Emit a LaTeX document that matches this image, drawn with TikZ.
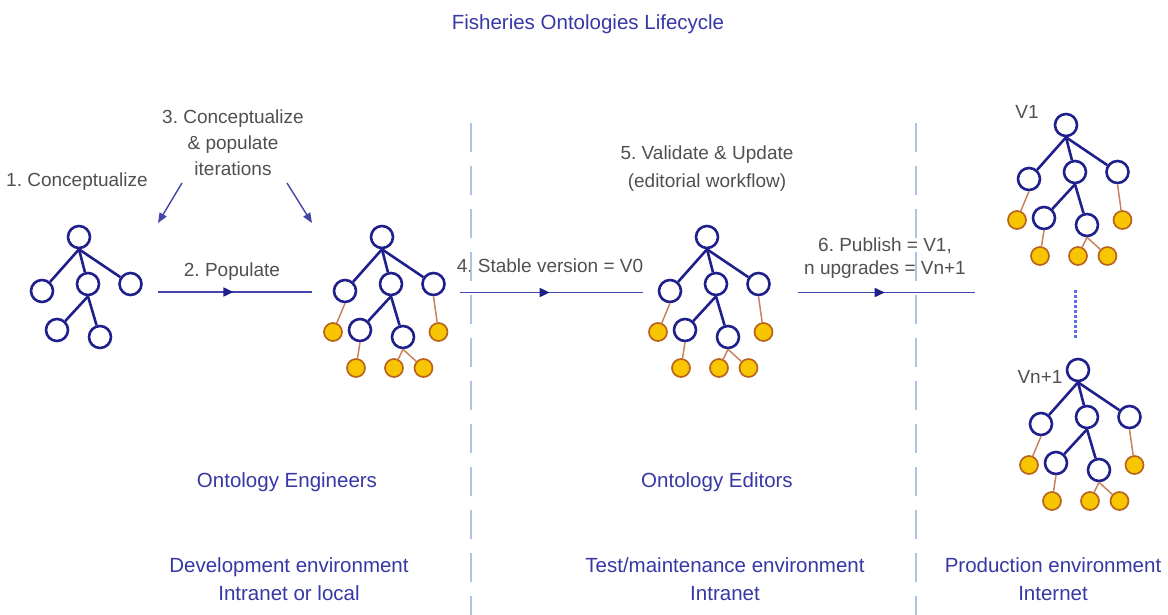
\documentclass[tikz,border=0pt]{standalone}
\usepackage{fontspec}
\setmainfont{Liberation Sans}
\usetikzlibrary{arrows.meta,decorations.markings}

\definecolor{treeblue}{RGB}{32,32,140}
\definecolor{arrowblue}{RGB}{70,70,170}
\definecolor{labelblue}{RGB}{55,55,165}
\definecolor{textgrey}{RGB}{80,80,80}
\definecolor{leaffill}{RGB}{248,198,0}
\definecolor{leafdraw}{RGB}{185,100,30}
\definecolor{leafedge}{RGB}{200,130,95}
\definecolor{sepblue}{RGB}{170,196,232}
\definecolor{dotblue}{RGB}{90,108,240}

\frenchspacing
\begin{document}
\begin{tikzpicture}[x=1pt, y=-1pt,
  cls/.style={circle, draw=treeblue, line width=2.6pt, fill=white, minimum size=22pt, inner sep=0pt},
  inst/.style={circle, draw=leafdraw, fill=leaffill, line width=1.7pt, minimum size=18pt, inner sep=0pt},
  isa/.style={draw=treeblue, line width=2.6pt},
  hasinst/.style={draw=leafedge, line width=1.5pt},
  note/.style={text=textgrey, font=\fontsize{19}{26}\selectfont, align=center, inner sep=0pt, anchor=base},
  group/.style={text=labelblue, font=\fontsize{20.5}{28}\selectfont, align=center, inner sep=0pt, anchor=base},
  flow/.style={draw=arrowblue, line width=1.6pt, postaction={decorate},
    decoration={markings, mark=at position 0.49 with {\arrow{Triangle[length=10pt,width=9pt,color=treeblue]}}}},
  hint/.style={draw=arrowblue, line width=1.4pt, -{Triangle[length=10pt,width=8pt]}},
  envline/.style={draw=sepblue, line width=2.4pt, dash pattern=on 29pt off 14pt},
  versions/.style={draw=dotblue, line width=3pt, dash pattern=on 3pt off 2pt}]
\useasboundingbox (0,0) rectangle (1168,615);

\node[group] (title) at (588,30) {Fisheries Ontologies Lifecycle};

\begin{scope}[shift={(79,237)}]
\node[cls] (c0) at (0,0) {};
\node[cls] (c1) at (-37,54) {};
\node[cls] (c2) at (9,47) {};
\node[cls] (c3) at (51.5,47) {};
\node[cls] (c4) at (-22,93) {};
\node[cls] (c5) at (21,100) {};
\end{scope}
\draw[isa] (c0.south) -- (c1);
\draw[isa] (c0.south) -- (c2);
\draw[isa] (c0.south) -- (c3);
\draw[isa] (c2.south) -- (c4);
\draw[isa] (c2.south) -- (c5);

\begin{scope}[shift={(382,237)}]
\node[cls] (p0) at (0,0) {};
\node[cls] (p1) at (-37,54) {};
\node[cls] (p2) at (9,47) {};
\node[cls] (p3) at (51.5,47) {};
\node[cls] (p4) at (-22,93) {};
\node[cls] (p5) at (21,100) {};
\node[inst] (py1) at (-49,95) {};
\node[inst] (py2) at (56.5,95) {};
\node[inst] (py3) at (-26,131) {};
\node[inst] (py4) at (12,131) {};
\node[inst] (py5) at (41.5,131) {};
\end{scope}
\draw[isa] (p0.south) -- (p1);
\draw[isa] (p0.south) -- (p2);
\draw[isa] (p0.south) -- (p3);
\draw[isa] (p2.south) -- (p4);
\draw[isa] (p2.south) -- (p5);
\draw[hasinst] (p1.south) -- (py1);
\draw[hasinst] (p3.south) -- (py2);
\draw[hasinst] (p4.south) -- (py3);
\draw[hasinst] (p5.south) -- (py4);
\draw[hasinst] (p5.south) -- (py5);

\begin{scope}[shift={(707,237)}]
\node[cls] (s0) at (0,0) {};
\node[cls] (s1) at (-37,54) {};
\node[cls] (s2) at (9,47) {};
\node[cls] (s3) at (51.5,47) {};
\node[cls] (s4) at (-22,93) {};
\node[cls] (s5) at (21,100) {};
\node[inst] (sy1) at (-49,95) {};
\node[inst] (sy2) at (56.5,95) {};
\node[inst] (sy3) at (-26,131) {};
\node[inst] (sy4) at (12,131) {};
\node[inst] (sy5) at (41.5,131) {};
\end{scope}
\draw[isa] (s0.south) -- (s1);
\draw[isa] (s0.south) -- (s2);
\draw[isa] (s0.south) -- (s3);
\draw[isa] (s2.south) -- (s4);
\draw[isa] (s2.south) -- (s5);
\draw[hasinst] (s1.south) -- (sy1);
\draw[hasinst] (s3.south) -- (sy2);
\draw[hasinst] (s4.south) -- (sy3);
\draw[hasinst] (s5.south) -- (sy4);
\draw[hasinst] (s5.south) -- (sy5);

\begin{scope}[shift={(1066,125)}]
\node[cls] (v0) at (0,0) {};
\node[cls] (v1) at (-37,54) {};
\node[cls] (v2) at (9,47) {};
\node[cls] (v3) at (51.5,47) {};
\node[cls] (v4) at (-22,93) {};
\node[cls] (v5) at (21,100) {};
\node[inst] (vy1) at (-49,95) {};
\node[inst] (vy2) at (56.5,95) {};
\node[inst] (vy3) at (-26,131) {};
\node[inst] (vy4) at (12,131) {};
\node[inst] (vy5) at (41.5,131) {};
\end{scope}
\draw[isa] (v0.south) -- (v1);
\draw[isa] (v0.south) -- (v2);
\draw[isa] (v0.south) -- (v3);
\draw[isa] (v2.south) -- (v4);
\draw[isa] (v2.south) -- (v5);
\draw[hasinst] (v1.south) -- (vy1);
\draw[hasinst] (v3.south) -- (vy2);
\draw[hasinst] (v4.south) -- (vy3);
\draw[hasinst] (v5.south) -- (vy4);
\draw[hasinst] (v5.south) -- (vy5);

\begin{scope}[shift={(1078,370)}]
\node[cls] (w0) at (0,0) {};
\node[cls] (w1) at (-37,54) {};
\node[cls] (w2) at (9,47) {};
\node[cls] (w3) at (51.5,47) {};
\node[cls] (w4) at (-22,93) {};
\node[cls] (w5) at (21,100) {};
\node[inst] (wy1) at (-49,95) {};
\node[inst] (wy2) at (56.5,95) {};
\node[inst] (wy3) at (-26,131) {};
\node[inst] (wy4) at (12,131) {};
\node[inst] (wy5) at (41.5,131) {};
\end{scope}
\draw[isa] (w0.south) -- (w1);
\draw[isa] (w0.south) -- (w2);
\draw[isa] (w0.south) -- (w3);
\draw[isa] (w2.south) -- (w4);
\draw[isa] (w2.south) -- (w5);
\draw[hasinst] (w1.south) -- (wy1);
\draw[hasinst] (w3.south) -- (wy2);
\draw[hasinst] (w4.south) -- (wy3);
\draw[hasinst] (w5.south) -- (wy4);
\draw[hasinst] (w5.south) -- (wy5);

\node[note] (conc) at (77,186) {1. Conceptualize};
\node[note] (iter) at (233,176) {3. Conceptualize\\\& populate\\iterations};
\node[note] (popl) at (232,276) {2. Populate};
\node[note] (stab) at (550,272.5) {4. Stable version = V0};
\node[note, font=\fontsize{19}{28}\selectfont] (vald) at (707,187.5) {5. Validate \& Update\\(editorial workflow)};
\node[note, font=\fontsize{19}{23}\selectfont] (publ) at (885,274) {6. Publish = V1,\\n upgrades = Vn+1};
\node[note] (vone) at (1027,119) {V1};
\node[note] (vnext) at (1040,383) {Vn+1};

\coordinate (itl0) at (182,183);
\coordinate (itl1) at (158,223);
\coordinate (itr0) at (287,183);
\coordinate (itr1) at (312,223);
\draw[hint] (itl0) -- (itl1);
\draw[hint] (itr0) -- (itr1);

\coordinate (pop0) at (158,292);
\coordinate (pop1) at (312,292);
\coordinate (stb0) at (460,292.5);
\coordinate (stb1) at (643,292.5);
\coordinate (pub0) at (798,292.5);
\coordinate (pub1) at (975,292.5);
\draw[flow] (pop0) -- (pop1);
\draw[flow] (stb0) -- (stb1);
\draw[flow] (pub0) -- (pub1);

\coordinate (ver0) at (1075,290);
\coordinate (ver1) at (1075,338);
\draw[versions] (ver0) -- (ver1);

\node[group] (eng) at (287,487) {Ontology Engineers};
\node[group] (edt) at (717,487) {Ontology Editors};
\node[group] (dev) at (289,600) {Development environment\\Intranet or local};
\node[group] (tst) at (725,600) {Test/maintenance environment\\Intranet};
\node[group] (prd) at (1053,600) {Production environment\\Internet};

\coordinate (envA0) at (471,123);
\coordinate (envA1) at (471,615);
\coordinate (envB0) at (916,123);
\coordinate (envB1) at (916,615);
\draw[envline] (envA0) -- (envA1);
\draw[envline] (envB0) -- (envB1);
\end{tikzpicture}
\end{document}
